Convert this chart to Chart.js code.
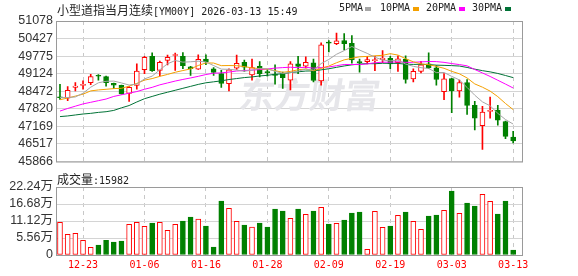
<!DOCTYPE html>
<html>
<head>
<meta charset="utf-8">
<script src="https://cdn.jsdelivr.net/npm/chart.js@4.4.1/dist/chart.umd.min.js"></script>
<style>
  body { margin: 0; background: #fff; }
  #wrap { position: relative; width: 578px; height: 276px; overflow: hidden; }
  canvas { position: absolute; left: 0; }
  #price { top: 0; }
  #vol { top: 170px; }
  .t { position: absolute; white-space: nowrap; color: #222; line-height: 14px; }
  .cjk { font: 12px 'Noto Sans CJK SC', sans-serif; }
  .mono { font: 10px 'DejaVu Sans Mono', monospace; }
  .sq { position: absolute; width: 6px; height: 4px; }
</style>
</head>
<body>
<div id="wrap">
  <canvas id="price" width="578" height="172"></canvas>
  <canvas id="vol" width="578" height="106"></canvas>
  <div class="t" style="left:57px;top:1px"><span class="cjk">小型道指当月连续</span><span class="mono">[YM00Y] 2026-03-13 15:49</span></div>
  <div class="t mono" style="left:339px;top:2px">5PMA</div><div class="sq" style="left:365px;top:7px;background:#a6a6a6"></div>
  <div class="t mono" style="left:380px;top:2px">10PMA</div><div class="sq" style="left:413px;top:7px;background:#f4a000"></div>
  <div class="t mono" style="left:426px;top:2px">20PMA</div><div class="sq" style="left:459px;top:7px;background:#ff00ff"></div>
  <div class="t mono" style="left:472px;top:2px">30PMA</div><div class="sq" style="left:505px;top:7px;background:#007236"></div>
  <div class="t" style="left:57px;top:170px"><span class="cjk">成交量</span><span class="mono">:15982</span></div>
</div>
<script>
(function () {
  'use strict';

  /* ---------- data ---------- */
  var dates = [
    '12-18', '12-19', '12-22', '12-23', '12-24', '12-26', '12-29', '12-30', '12-31', '01-02',
    '01-05', '01-06', '01-07', '01-08', '01-09', '01-12', '01-13', '01-14', '01-15', '01-16',
    '01-19', '01-20', '01-21', '01-22', '01-23', '01-26', '01-27', '01-28', '01-29', '01-30',
    '02-02', '02-03', '02-04', '02-05', '02-06', '02-09', '02-10', '02-11', '02-12', '02-13',
    '02-16', '02-17', '02-18', '02-19', '02-20', '02-23', '02-24', '02-25', '02-26', '02-27',
    '03-02', '03-03', '03-04', '03-05', '03-06', '03-09', '03-10', '03-11', '03-12', '03-13'
  ];
  var open = [
    48230, 48219, 48617, 48690, 48786, 49051, 49015, 48762, 48690, 48388,
    48690, 49269, 49763, 49244, 49618, 49799, 49763, 49377, 49293, 49667,
    49305, 49124, 48750, 49329, 49546, 49075, 49401, 49184, 49112, 49124,
    48883, 49486, 49401, 49522, 48858, 50282, 50234, 50354, 50246, 49558,
    49570, 49606, 49643, 49691, 49534, 49667, 48931, 49208, 49486, 49341,
    48461, 48943, 48485, 48798, 47954, 47194, 47724, 47773, 47351, 46771
  ];
  var high = [
    48726, 48641, 48798, 48858, 49100, 49088, 49039, 48774, 48702, 48641,
    49486, 49763, 49896, 49594, 49811, 49884, 49908, 49401, 49824, 49824,
    49353, 49244, 49305, 49811, 49630, 49667, 49570, 49281, 49450, 49184,
    49570, 49763, 49751, 49667, 50270, 50354, 50632, 50608, 50535, 49667,
    49763, 49763, 49980, 49763, 49787, 49787, 49305, 49582, 49896, 49425,
    49124, 48955, 48883, 48907, 48099, 47917, 48255, 47954, 47363, 46989
  ];
  var low = [
    48171, 48123, 48485, 48545, 48714, 48883, 48665, 48581, 48364, 48099,
    48545, 49124, 49208, 49039, 49450, 49244, 49305, 49063, 49281, 49462,
    49063, 48617, 48485, 49281, 49208, 48883, 49003, 49027, 48738, 48581,
    48521, 49124, 49341, 48822, 48702, 49932, 50197, 50004, 49510, 49184,
    49486, 49232, 49534, 49305, 49208, 48774, 48822, 49148, 49305, 48702,
    48159, 47676, 48255, 47616, 47037, 46313, 47471, 47218, 46711, 46554
  ];
  var close = [
    48230, 48509, 48665, 48714, 49015, 49027, 48786, 48702, 48376, 48617,
    49220, 49727, 49232, 49546, 49727, 49824, 49425, 49305, 49655, 49570,
    49172, 48762, 49269, 49510, 49365, 49353, 49124, 49160, 49063, 48979,
    49486, 49389, 49546, 48870, 50197, 50258, 50342, 50234, 49630, 49534,
    49643, 49630, 49703, 49486, 49679, 48907, 49208, 49450, 49341, 48907,
    48931, 48485, 48798, 47942, 47471, 47700, 47748, 47399, 46796, 46627
  ];
  var ma5 = [
    48235, 48240, 48260, 48400, 48622, 48786, 48841, 48849, 48781, 48702,
    48740, 48928, 49034, 49268, 49490, 49611, 49551, 49565, 49587, 49556,
    49425, 49293, 49286, 49257, 49216, 49252, 49324, 49302, 49213, 49136,
    49162, 49215, 49293, 49254, 49498, 49652, 49843, 49980, 50132, 50000,
    49877, 49734, 49628, 49599, 49628, 49481, 49397, 49346, 49317, 49163,
    49167, 49023, 48892, 48613, 48325, 48079, 47932, 47652, 47423, 47254
  ];
  var ma10 = [
    48159, 48219, 48292, 48364, 48485, 48521, 48545, 48569, 48581, 48662,
    48763, 48885, 48942, 49025, 49096, 49176, 49240, 49300, 49428, 49523,
    49518, 49422, 49426, 49422, 49386, 49339, 49309, 49294, 49235, 49176,
    49207, 49270, 49298, 49234, 49317, 49407, 49529, 49636, 49693, 49749,
    49764, 49788, 49804, 49866, 49814, 49679, 49565, 49487, 49458, 49395,
    49324, 49210, 49119, 48965, 48744, 48623, 48477, 48272, 48018, 47790
  ];
  var ma20 = [
    47737, 47833, 47918, 48002, 48062, 48123, 48183, 48280, 48340, 48400,
    48460, 48545, 48617, 48710, 48780, 48850, 48910, 48965, 49025, 49092,
    49141, 49153, 49184, 49223, 49241, 49257, 49274, 49297, 49331, 49349,
    49363, 49346, 49362, 49328, 49351, 49373, 49419, 49465, 49464, 49462,
    49486, 49529, 49551, 49550, 49565, 49543, 49547, 49562, 49576, 49572,
    49544, 49499, 49462, 49415, 49279, 49151, 49021, 48880, 48738, 48593
  ];
  var ma30 = [
    47532, 47556, 47592, 47628, 47652, 47688, 47713, 47761, 47857, 47942,
    48074, 48195, 48280, 48364, 48436, 48509, 48581, 48653, 48726, 48786,
    48822, 48858, 48907, 48943, 48979, 49003, 49039, 49063, 49100, 49120,
    49163, 49192, 49222, 49227, 49266, 49307, 49359, 49410, 49452, 49482,
    49497, 49493, 49509, 49507, 49505, 49475, 49468, 49472, 49462, 49440,
    49432, 49423, 49407, 49355, 49292, 49236, 49191, 49132, 49056, 48978
  ];
  /* volume, in 万 (10k contracts) */
  var volume = [
    10.68, 6.76, 7.09, 4.80, 2.51, 3.27, 4.80, 4.25, 4.58, 10.03,
    10.68, 9.38, 10.47, 10.68, 8.07, 10.03, 11.12, 12.43, 11.77, 9.48,
    2.62, 17.66, 15.26, 11.01, 9.81, 9.16, 10.47, 9.16, 15.04, 14.39,
    11.99, 15.04, 13.30, 14.39, 15.59, 10.14, 10.36, 11.45, 13.74, 14.06,
    1.85, 14.28, 9.05, 9.48, 12.97, 14.06, 11.01, 8.39, 12.75, 13.08,
    14.61, 20.93, 13.63, 17.01, 16.03, 19.84, 17.55, 13.41, 17.66, 1.60
  ];
  var priceTicks = [45866, 46517, 47169, 47820, 48472, 49124, 49775, 50427, 51078];
  var volTicks = [0, 5.56, 11.12, 16.68, 22.24];
  var dateTicks = [3, 11, 19, 27, 35, 43, 51, 59];

  var RED = '#ff0000', GREEN = '#008000';
  var X_MIN = -0.52, X_MAX = 60.15;   /* leaves the small empty strip on the right */

  /* flat day (i0): candle drawn green, its volume bar red, as in the source */
  var candleUp = close.map(function (c, i) { return c > open[i]; });
  var volUp = close.map(function (c, i) { return c >= open[i]; });

  function pts(arr) { return arr.map(function (v, i) { return { x: i, y: v }; }); }
  function maLine(arr, color) {
    return { type: 'line', data: pts(arr), borderColor: color, borderWidth: 1,
             pointRadius: 0, tension: 0, order: 0 };
  }

  var framePlugin = {
    id: 'frame',
    afterDraw: function (chart) {
      var a = chart.chartArea, ctx = chart.ctx;
      ctx.save();
      ctx.strokeStyle = '#9a9a9a';
      ctx.lineWidth = 1;
      ctx.strokeRect(a.left + 0.5, a.top + 0.5, a.right - a.left, a.bottom - a.top);
      ctx.restore();
    }
  };
  var watermarkPlugin = {
    id: 'watermark',
    beforeDatasetsDraw: function (chart) {
      var ctx = chart.ctx;
      ctx.save();
      ctx.fillStyle = '#e6e6ea';
      ctx.font = "bold 35px 'Noto Sans CJK SC'";
      ctx.textBaseline = 'middle';
      ctx.translate(240, 95);
      ctx.transform(1, 0, -0.15, 1, 0, 0);
      ctx.fillText('东方财富', 0, 0);
      ctx.restore();
    }
  };

  function xScale(showLabels) {
    return {
      type: 'linear', min: X_MIN, max: X_MAX, offset: false,
      afterBuildTicks: function (s) { s.ticks = dateTicks.map(function (v) { return { value: v }; }); },
      afterFit: function (s) { s.height = showLabels ? 21 : 0; },
      ticks: {
        display: showLabels, autoSkip: false, maxRotation: 0, padding: 4, color: RED,
        font: { family: "'DejaVu Sans Mono', monospace", size: 10 },
        callback: function (v) { return dates[v]; }
      },
      grid: { color: '#c8c8c8', drawTicks: false, offset: false },
      border: { display: false, dash: [4, 4] }
    };
  }
  function yScale(ticks, fmt) {
    return {
      min: ticks[0], max: ticks[ticks.length - 1],
      afterBuildTicks: function (s) { s.ticks = ticks.map(function (v) { return { value: v }; }); },
      afterFit: function (s) { s.width = 56; },
      ticks: {
        autoSkip: false, padding: 3, color: '#333',
        font: { family: "'Liberation Sans', 'Noto Sans CJK SC', sans-serif", size: 12.5 },
        callback: fmt
      },
      grid: { color: '#d4d4d4', drawTicks: false },
      border: { display: false }
    };
  }
  var common = {
    responsive: false, animation: false, devicePixelRatio: 1, events: [],
    plugins: { legend: { display: false }, tooltip: { enabled: false } }
  };

  /* ---------- price panel: MA lines + candles ---------- */
  new Chart(document.getElementById('price'), {
    type: 'bar',
    data: {
      datasets: [
        maLine(ma5, '#a6a6a6'),
        maLine(ma10, '#f4a000'),
        maLine(ma20, '#ff00ff'),
        maLine(ma30, '#007236'),
        {
          data: open.map(function (o, i) { return { x: i, y: [o, close[i]] }; }),
          backgroundColor: candleUp.map(function (u) { return u ? '#ffffff' : GREEN; }),
          borderColor: candleUp.map(function (u) { return u ? RED : GREEN; }),
          borderWidth: 1, borderSkipped: false, barThickness: 5, minBarLength: 1,
          grouped: false, order: 1
        },
        {
          data: low.map(function (l, i) { return { x: i, y: [l, high[i]] }; }),
          backgroundColor: candleUp.map(function (u) { return u ? RED : GREEN; }),
          borderWidth: 0, barThickness: 1, grouped: false, order: 2
        }
      ]
    },
    options: Object.assign({}, common, {
      layout: { padding: { left: 0, right: 56, top: 21, bottom: 7 } },
      scales: {
        x: xScale(false),
        y: yScale(priceTicks, function (v) { return String(v); })
      }
    }),
    plugins: [watermarkPlugin, framePlugin]
  });

  /* ---------- volume panel ---------- */
  new Chart(document.getElementById('vol'), {
    type: 'bar',
    data: {
      datasets: [{
        data: pts(volume),
        backgroundColor: volUp.map(function (u) { return u ? '#ffffff' : GREEN; }),
        borderColor: volUp.map(function (u) { return u ? RED : GREEN; }),
        borderWidth: 1, borderSkipped: false, barThickness: 5, grouped: false
      }]
    },
    options: Object.assign({}, common, {
      layout: { padding: { left: 0, right: 56, top: 17, bottom: 0 } },
      scales: {
        x: xScale(true),
        y: yScale(volTicks, function (v) { return v === 0 ? '0' : v.toFixed(2) + '万'; })
      }
    }),
    plugins: [framePlugin]
  });
})();
</script>
</body>
</html>
